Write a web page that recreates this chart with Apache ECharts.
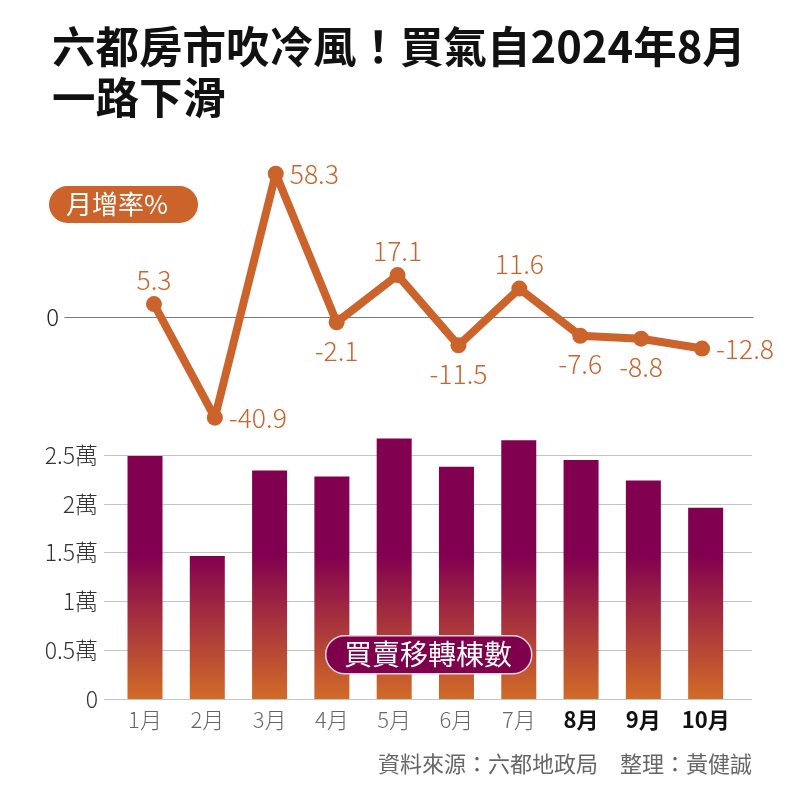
<!DOCTYPE html>
<html><head><meta charset="utf-8">
<script src="https://cdn.jsdelivr.net/npm/echarts@6/dist/echarts.min.js"></script>
<style>html,body{margin:0;padding:0;background:#fff}#c{width:792px;height:801px}</style>
</head><body><div id="c"></div>
<script>
const months = ['1月','2月','3月','4月','5月','6月','7月','8月','9月','10月'];
const volumes = [2.49, 1.465, 2.34, 2.28, 2.67, 2.38, 2.65, 2.45, 2.24, 1.96]; // 萬棟
const growth = [5.3, -40.9, 58.3, -2.1, 17.1, -11.5, 11.6, -7.6, -8.8, -12.8]; // %
const highlightMonths = ['8月','9月','10月'];
const labelPositions = ['top','right','right','bottom','top','bottom','top','bottom','bottom','right'];
const titleText = '六都房市吹冷風！買氣自2024年8月\n一路下滑';
const sourceText = '資料來源：六都地政局　整理：黃健誠';

const FONT = '"Noto Sans CJK TC", "Noto Sans", sans-serif';
const ORANGE = '#cb632b';
const PURPLE = '#7f004b';

const chart = echarts.init(document.getElementById('c'), null, {renderer: 'canvas'});
const barGrad = new echarts.graphic.LinearGradient(0, 555, 0, 697, [
  {offset: 0, color: '#820050'},
  {offset: 1, color: '#d06a28'}
], true);

chart.setOption({
  animation: false,
  backgroundColor: '#fff',
  textStyle: {fontFamily: FONT},
  title: {
    text: titleText, left: 47, top: 16,
    textStyle: {fontFamily: FONT, fontSize: 43.5, fontWeight: 'bold', color: '#111', lineHeight: 51}
  },
  grid: [
    {left: 123.5, right: 59.5, top: 145, height: 295},
    {left: 65, right: 39, top: 145, height: 295},
    {left: 104, right: 40, top: 455, bottom: 102},
    {left: 113.85, right: 55.2, top: 406.2, bottom: 102}
  ],
  xAxis: [
    {gridIndex: 0, type: 'category', data: months, show: false},
    {gridIndex: 1, type: 'category', data: months, axisLine: {show: true, onZero: true, lineStyle: {color: '#7a7a7a', width: 1.2}},
      axisTick: {show: false}, axisLabel: {show: false}},
    {gridIndex: 2, type: 'category', data: months, show: false},
    {gridIndex: 3, type: 'category', data: months,
      axisLine: {show: false}, axisTick: {show: false},
      axisLabel: {interval: 0, margin: 10, fontSize: 22, color: '#666', fontFamily: FONT, fontWeight: 300,
        formatter: v => highlightMonths.includes(v) ? '{b|' + v + '}' : v,
        rich: {b: {fontSize: 22, fontWeight: 'bold', color: '#111', fontFamily: FONT}}}}
  ],
  yAxis: [
    {gridIndex: 0, type: 'value', min: -50, max: 70, show: false},
    {gridIndex: 1, type: 'value', min: -50, max: 70, interval: 10,
      axisLine: {show: false}, axisTick: {show: false}, splitLine: {show: false},
      axisLabel: {margin: 6, fontSize: 24, color: '#222', fontFamily: FONT, fontWeight: 300, formatter: v => v === 0 ? '0' : ''}},
    {gridIndex: 2, type: 'value', min: 0, max: 2.5, interval: 0.5,
      axisLine: {show: false}, axisTick: {show: false},
      splitLine: {show: true, lineStyle: {color: '#c4c4c4', width: 1}},
      axisLabel: {margin: 6, fontSize: 23, color: '#333', fontFamily: FONT, fontWeight: 300, formatter: v => v === 0 ? '0' : v + '萬'}},
    {gridIndex: 3, type: 'value', min: 0, max: 3, show: false}
  ],
  series: [
    {
      type: 'bar', xAxisIndex: 3, yAxisIndex: 3, data: volumes, barWidth: 35,
      itemStyle: {color: barGrad}, z: 2
    },
    {
      type: 'line', xAxisIndex: 0, yAxisIndex: 0, z: 5,
      data: growth.map((v, i) => ({value: v, label: {position: labelPositions[i], distance: labelPositions[i] === 'bottom' ? 7 : (labelPositions[i] === 'top' ? 3 : 6)}})),
      symbol: 'circle', symbolSize: 16,
      lineStyle: {color: ORANGE, width: 8},
      itemStyle: {color: ORANGE},
      label: {show: true, fontSize: 26.5, fontWeight: 300, color: ORANGE, fontFamily: FONT, formatter: p => String(p.value)}
    }
  ],
  graphic: [
    {type: 'rect', left: 49, top: 186, z: 100, shape: {width: 149, height: 37, r: 18.5}, style: {fill: ORANGE}},
    {type: 'text', left: 66, top: 188, z: 101, style: {text: '月增率%', fill: '#fff', font: '26px ' + FONT, lineHeight: 33}},
    {type: 'rect', left: 325, top: 635, z: 100, shape: {width: 206, height: 38, r: 19}, style: {fill: PURPLE, stroke: '#f3d3e2', lineWidth: 1.5}},
    {type: 'text', left: 344, top: 636, z: 101, style: {text: '買賣移轉棟數', fill: '#fff', font: '28px ' + FONT, lineHeight: 36}},
    {type: 'text', right: 40, top: 753, z: 100, style: {text: sourceText, fill: '#666', font: '22px ' + FONT}}
  ]
});
</script></body></html>
